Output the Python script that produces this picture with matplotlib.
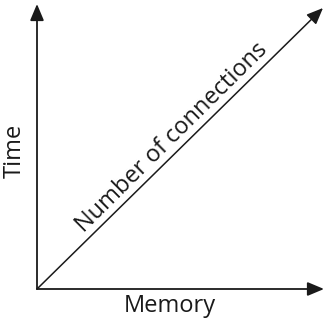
import matplotlib.pyplot as plt

plt.rcParams['font.family'] = ['Open Sans', 'DejaVu Sans']

# diagram in pixel-like units (origin bottom left of the chart)
origin = (37, 33)
x_end = 324
y_end = 318
line_end = (323, 314)
x_label = "Memory"
y_label = "Time"
line_label = "Number of connections"

fig = plt.figure(figsize=(3.25, 3.22), dpi=100)
ax = fig.add_axes([0, 0, 1, 1])
ax.set_xlim(0, 325)
ax.set_ylim(0, 322)
ax.axis('off')

ink = '#1a1a1a'
arrow = dict(arrowstyle='-|>,head_length=1.0,head_width=0.42', color=ink, lw=1.3,
             shrinkA=0, shrinkB=0)
ax.annotate('', xy=(x_end, origin[1]), xytext=origin, arrowprops=arrow)
ax.annotate('', xy=(origin[0], y_end), xytext=origin, arrowprops=arrow)
ax.annotate('', xy=line_end, xytext=origin, arrowprops=dict(arrow, lw=1.1))

ax.text(170, 16, x_label, ha='center', va='center', fontsize=17, color=ink)
ax.text(15, 171, y_label, ha='center', va='center', rotation=90, fontsize=17, color=ink)
ax.text(172, 184, line_label, ha='center', va='center', rotation=44.7,
        rotation_mode='anchor', fontsize=17, color=ink)

fig.savefig('out.png', dpi=100)
